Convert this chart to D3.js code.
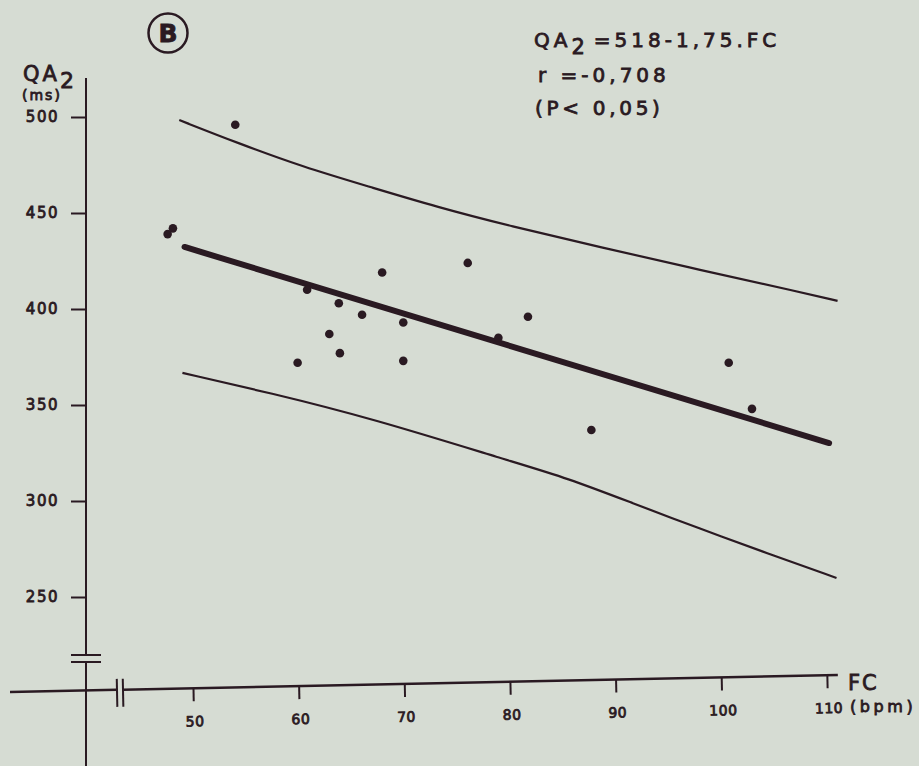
<!DOCTYPE html>
<html>
<head>
<meta charset="utf-8">
<script src="https://cdn.jsdelivr.net/npm/d3@7"></script>
<style>
  body { margin: 0; background: #d6dcd3; }
  svg { display: block; }
  text { font-family: "DejaVu Sans", sans-serif; fill: #2a1a22; stroke: #2a1a22; stroke-width: 0.8px; }
</style>
</head>
<body>
<div id="chart"></div>
<script>
// heart rate (FC, bpm) and QA2 interval (ms) for each subject
var fcValues = [47.6, 48.1, 54.0, 60.8, 59.9, 62.9, 63.8, 63.9, 66.0, 67.9, 69.9, 69.9, 76.0, 78.9, 81.7, 87.7, 100.7, 102.9];
var qaValues = [439, 442, 496, 410, 372, 387, 403, 377, 397, 419, 393, 373, 424, 385, 396, 337, 372, 348];

// regression line QA2 = 518 - 1,75.FC (as drawn)
var fitFC = [49.2, 110.2];
var fitQA = [432.3, 330.2];

// confidence limits
var upperFC = [48.7, 54.2, 60.4, 66.8, 73.1, 80.0, 88.5, 98.0, 107.4, 111.0];
var upperQA = [498.4, 486.5, 474.0, 463.5, 453.1, 443.2, 432.3, 420.3, 408.9, 404.2];
var lowerFC = [49.0, 57.3, 66.8, 80.0, 85.4, 91.6, 98.0, 104.3, 110.9];
var lowerQA = [366.7, 356.3, 343.2, 320.8, 312.0, 298.9, 285.5, 272.9, 259.9];

var xTicks = [50, 60, 70, 80, 90, 100, 110];
var yTicks = [250, 300, 350, 400, 450, 500];

var width = 919, height = 766;
var ink = "#2a1a22";

var svg = d3.select("#chart").append("svg")
  .attr("width", width)
  .attr("height", height);

var xScale = d3.scaleLinear().domain([50, 110]).range([193, 827]);
var yScale = d3.scaleLinear().domain([250, 500]).range([597, 117]);

var axisX = 86;      // where the y axis stands
var axisY = 690.5;   // where the x axis crosses it
var tilt = -1.18;    // the x axis is drawn a little askew

// y axis: vertical line with a break near the bottom
svg.append("line").attr("x1", axisX).attr("x2", axisX).attr("y1", 78).attr("y2", 655)
  .attr("stroke", ink).attr("stroke-width", 2);
svg.append("line").attr("x1", axisX).attr("x2", axisX).attr("y1", 662).attr("y2", height)
  .attr("stroke", ink).attr("stroke-width", 2);
[655, 662].forEach(function (y) {
  svg.append("line").attr("x1", 71).attr("x2", 101).attr("y1", y).attr("y2", y)
    .attr("stroke", ink).attr("stroke-width", 2);
});

var yAxis = svg.append("g")
  .attr("transform", "translate(" + axisX + ",0)")
  .call(d3.axisLeft(yScale).tickValues(yTicks).tickSize(15).tickPadding(12));
yAxis.select(".domain").remove();
yAxis.selectAll(".tick line").attr("stroke", ink).attr("stroke-width", 2);
yAxis.selectAll(".tick text")
  .attr("font-size", "15px").attr("letter-spacing", "1.5px").attr("fill", ink)
  .style("font-family", "'DejaVu Sans', sans-serif");

// x axis: tilted group with a break just right of the y axis
var xg = svg.append("g")
  .attr("transform", "rotate(" + tilt + "," + axisX + "," + axisY + ") translate(0," + axisY + ")");
xg.append("line").attr("x1", 10).attr("x2", 117).attr("y1", 0).attr("y2", 0)
  .attr("stroke", ink).attr("stroke-width", 2.5);
xg.append("line").attr("x1", 123).attr("x2", 838).attr("y1", 0).attr("y2", 0)
  .attr("stroke", ink).attr("stroke-width", 2.5);
[117, 123].forEach(function (x) {
  xg.append("line").attr("x1", x).attr("x2", x).attr("y1", -11).attr("y2", 17)
    .attr("stroke", ink).attr("stroke-width", 2);
});
var xAxis = xg.append("g")
  .call(d3.axisBottom(xScale).tickValues(xTicks).tickSize(13).tickPadding(15));
xAxis.select(".domain").remove();
xAxis.selectAll(".tick line").attr("stroke", ink).attr("stroke-width", 2);
xAxis.selectAll(".tick text")
  .attr("font-size", "14px").attr("letter-spacing", "0.5px").attr("fill", ink)
  .attr("dx", "1px")
  .style("font-family", "'DejaVu Sans', sans-serif");

// confidence curves
var curve = d3.line()
  .x(function (d) { return xScale(d[0]); })
  .y(function (d) { return yScale(d[1]); })
  .curve(d3.curveBasis);

svg.append("path")
  .datum(d3.zip(upperFC, upperQA))
  .attr("d", curve).attr("fill", "none").attr("stroke", ink).attr("stroke-width", 2.2);
svg.append("path")
  .datum(d3.zip(lowerFC, lowerQA))
  .attr("d", curve).attr("fill", "none").attr("stroke", ink).attr("stroke-width", 2.2);

// regression line
svg.append("path")
  .datum(d3.zip(fitFC, fitQA))
  .attr("d", d3.line().x(function (d) { return xScale(d[0]); }).y(function (d) { return yScale(d[1]); }))
  .attr("fill", "none").attr("stroke", ink).attr("stroke-width", 6).attr("stroke-linecap", "round");

// data points
svg.selectAll("circle.pt")
  .data(d3.zip(fcValues, qaValues))
  .enter().append("circle")
  .attr("class", "pt")
  .attr("cx", function (d) { return xScale(d[0]); })
  .attr("cy", function (d) { return yScale(d[1]); })
  .attr("r", 4.3)
  .attr("fill", ink);

// panel letter
svg.append("circle").attr("cx", 168).attr("cy", 33).attr("r", 19.5)
  .attr("fill", "none").attr("stroke", ink).attr("stroke-width", 2.5);
svg.append("text").attr("x", 168).attr("y", 42).attr("text-anchor", "middle")
  .attr("font-size", "25px").attr("font-weight", 700).text("B");

// y axis title
var yt = svg.append("text").attr("x", 23).attr("y", 81).attr("font-size", "21px").attr("letter-spacing", "3px");
yt.append("tspan").text("QA");
yt.append("tspan").attr("dy", 7).attr("font-size", "22px").text("2");
svg.append("text").attr("x", 22).attr("y", 100).attr("font-size", "14px")
  .attr("letter-spacing", "2px").text("(ms)");

// x axis title
svg.append("text").attr("x", 848).attr("y", 690).attr("font-size", "21px").attr("letter-spacing", "2px").text("FC");
svg.append("text").attr("x", 850).attr("y", 712).attr("font-size", "16px")
  .attr("letter-spacing", "3.6px").text("(bpm)");

// equation block
var eq = svg.append("text").attr("x", 534).attr("y", 47).attr("font-size", "20px").attr("letter-spacing", "4px");
eq.append("tspan").text("QA");
eq.append("tspan").attr("dy", 7).attr("font-size", "21px").text("2");
eq.append("tspan").attr("dy", -7).attr("dx", 5).text("=518-1,75.FC");
svg.append("text").attr("x", 538).attr("y", 82).attr("font-size", "20px")
  .attr("letter-spacing", "4px").text("r =-0,708");
svg.append("text").attr("x", 535).attr("y", 115).attr("font-size", "20px")
  .attr("letter-spacing", "3.7px").text("(P< 0,05)");
</script>
</body>
</html>
